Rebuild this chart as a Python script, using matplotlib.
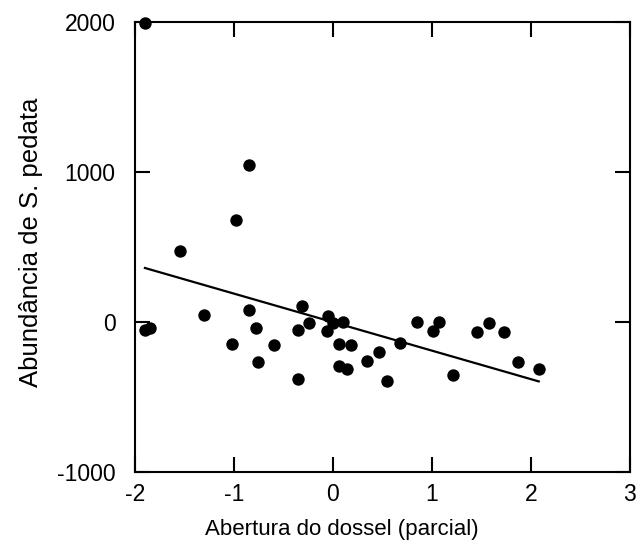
import numpy as np
from matplotlib import pyplot as plt

plt.rcParams['font.family'] = ['Liberation Sans', 'DejaVu Sans']
plt.rcParams['axes.unicode_minus'] = False

# canopy openness (partial residual) vs abundance
abertura = [-1.90, -1.90, -1.85, -1.55, -1.30, -0.98, -0.85, -1.02, -0.85, -0.78,
            -0.76, -0.60, -0.35, -0.31, -0.35, -0.24, -0.05, 0.00, 0.10, -0.06,
            0.06, 0.18, 0.06, 0.14, 0.34, 0.47, 0.55, 0.68, 0.85, 1.01,
            1.07, 1.21, 1.46, 1.58, 1.73, 1.87, 2.08]
abundancia = [1993, -53, -40, 473, 47, 680, 1047, -147, 80, -40,
              -267, -153, -380, 107, -53, -7, 40, -7, 0, -60,
              -147, -153, -293, -313, -260, -200, -393, -140, 0, -60,
              0, -353, -67, -7, -67, -267, -313]

# fitted line
slope = -190.0
intercept = -1.0

fig = plt.figure(figsize=(6.4, 5.44), dpi=100)
ax = fig.add_axes([0.211, 0.1324, 0.773, 0.8272])

ax.scatter(abertura, abundancia, s=80, color='black', zorder=3, clip_on=False, linewidths=0)
fx = np.array([min(abertura), max(abertura)])
ax.plot(fx, intercept + slope * fx, color='black', lw=1.6)

ax.set_xlim(-2, 3)
ax.set_ylim(-1000, 2000)
ax.set_xticks([-2, -1, 0, 1, 2, 3])
ax.set_yticks([-1000, 0, 1000, 2000])
ax.tick_params(direction='in', length=11, width=1.5, top=True, right=True,
               labelsize=16.5)
ax.tick_params(axis='x', pad=8)
ax.tick_params(axis='y', pad=14)
for sp in ax.spines.values():
    sp.set_linewidth(1.5)

ax.set_xlabel('Abertura do dossel (parcial)', fontsize=16, labelpad=5)
ax.xaxis.set_label_coords(0.418, -0.105)
ax.set_ylabel('Abundância de S. pedata', fontsize=18.5, labelpad=10)
ax.yaxis.label.set_y(0.51)

fig.savefig('out.png', dpi=100)
